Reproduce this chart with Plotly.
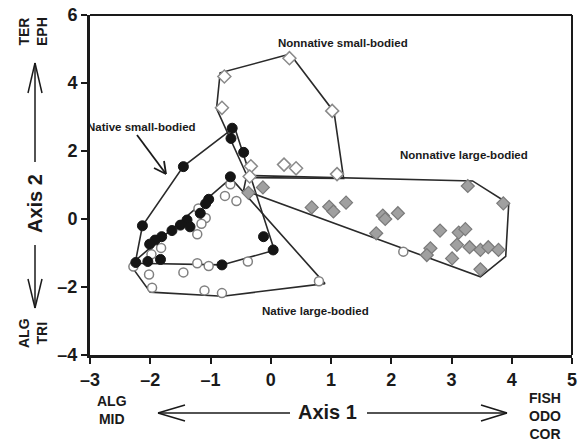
import plotly.graph_objects as go

# ---- data ----
native_small_x = [-0.64, -0.66, -0.45, -1.45, -0.67, -1.03, -1.08, -1.17, -1.39, -1.34, -1.50, -1.64, -1.81, -1.92, -2.01, -2.13, -0.12, 0.04, -0.81, -1.83, -2.04, -2.24]
native_small_y = [2.67, 2.37, 1.96, 1.54, 1.24, 0.58, 0.45, 0.17, -0.03, -0.23, -0.18, -0.34, -0.52, -0.62, -0.74, -0.20, -0.52, -0.91, -1.35, -1.19, -1.25, -1.28]

native_large_x = [-0.67, -0.76, -0.57, -1.20, -1.08, -1.15, -1.22, -1.82, -1.98, -2.02, -1.97, -1.45, -1.22, -1.03, -0.38, -1.10, -0.81, 0.80, -2.28, 2.20]
native_large_y = [1.02, 0.68, 0.53, 0.31, 0.03, -0.14, -0.45, -0.85, -1.04, -1.63, -2.02, -1.57, -1.30, -1.38, -1.25, -2.10, -2.18, -1.83, -1.40, -0.96]

nonnative_small_x = [0.31, -0.77, -0.81, 1.02, 0.22, 0.42, 1.10, -0.33, -0.35]
nonnative_small_y = [4.73, 4.19, 3.27, 3.18, 1.60, 1.49, 1.32, 1.55, 1.25]

nonnative_large_x = [-0.13, -0.37, 0.68, 0.97, 1.04, 1.25, 1.86, 1.90, 2.11, 1.75, 2.81, 3.12, 3.23, 3.27, 3.86, 2.65, 2.59, 3.09, 3.30, 3.48, 3.61, 3.78, 3.01, 3.48]
nonnative_large_y = [0.93, 0.77, 0.34, 0.36, 0.22, 0.48, 0.10, 0.00, 0.17, -0.42, -0.34, -0.40, -0.30, 0.97, 0.46, -0.86, -1.06, -0.76, -0.83, -0.91, -0.83, -0.91, -1.16, -1.48]

# hull vertices
hull_native_small_x = [-0.60, 0.06, -0.81, -2.25, -2.13, -1.45, -0.60]
hull_native_small_y = [2.70, -0.92, -1.35, -1.30, -0.20, 1.55, 2.70]
hull_native_large_x = [-2.33, -0.66, 0.90, -0.80, -2.00, -2.33]
hull_native_large_y = [-1.35, 1.20, -1.90, -2.27, -2.15, -1.35]
hull_nonnative_small_x = [0.32, -0.84, -0.90, -0.38, 1.21, 1.05, 0.32]
hull_nonnative_small_y = [4.85, 4.30, 3.25, 1.22, 1.19, 3.15, 4.85]
hull_nonnative_large_x = [-0.45, -0.40, 3.35, 3.95, 3.90, 3.48, -0.45]
hull_nonnative_large_y = [0.85, 1.28, 1.12, 0.45, -1.10, -1.70, 0.85]

x_ticks = [-3, -2, -1, 0, 1, 2, 3, 4, 5]
y_ticks = [-4, -2, 0, 2, 4, 6]

FONT = "Liberation Sans, Arial, sans-serif"
HULL = dict(color="#2a2a2a", width=1.6)

fig = go.Figure()
for hx, hy in [(hull_native_large_x, hull_native_large_y),
               (hull_native_small_x, hull_native_small_y),
               (hull_nonnative_small_x, hull_nonnative_small_y),
               (hull_nonnative_large_x, hull_nonnative_large_y)]:
    fig.add_trace(go.Scatter(x=hx, y=hy, mode="lines", line=HULL, hoverinfo="skip"))

fig.add_trace(go.Scatter(x=native_large_x, y=native_large_y, mode="markers",
                         marker=dict(symbol="circle", size=9, color="white",
                                     line=dict(color="#808080", width=1.5))))
fig.add_trace(go.Scatter(x=nonnative_small_x, y=nonnative_small_y, mode="markers",
                         marker=dict(symbol="diamond", size=10, color="white",
                                     line=dict(color="#8a8a8a", width=1.5))))
fig.add_trace(go.Scatter(x=nonnative_large_x, y=nonnative_large_y, mode="markers",
                         marker=dict(symbol="diamond", size=10, color="#a0a0a0",
                                     line=dict(color="#7a7a7a", width=1.2))))
fig.add_trace(go.Scatter(x=native_small_x, y=native_small_y, mode="markers",
                         marker=dict(symbol="circle", size=10, color="#151515",
                                     line=dict(color="#151515", width=1))))

# plot-area geometry in pixels (for styling of outside decorations)
L, R, T, B = 90, 572, 15, 355
def P(px, py):
    return (px - L) / (R - L), (B - py) / (B - T)

shapes = []
def seg(a, b, w=2):
    x0, y0 = P(*a); x1, y1 = P(*b)
    shapes.append(dict(type="line", xref="paper", yref="paper", x0=x0, y0=y0, x1=x1, y1=y1,
                       line=dict(color="#1a1a1a", width=w)))

# frame top/right
seg((L, T), (R, T), 2)
seg((R, T), (R, B), 2)

# callout arrow
seg((137, 135), (166, 174), 1.8)
seg((166, 174), (154, 168), 1.8)
seg((166, 174), (164, 161), 1.8)

# axis 1 arrows
seg((158, 413), (290, 413), 1.5)
seg((158, 413), (185, 405), 1.5)
seg((158, 413), (185, 421), 1.5)
seg((367, 413), (507, 413), 1.5)
seg((507, 413), (481, 405), 1.5)
seg((507, 413), (481, 421), 1.5)
# axis 2 arrows
seg((35, 63), (35, 162), 1.5)
seg((35, 63), (28, 93), 1.5)
seg((35, 63), (42, 93), 1.5)
seg((35, 245), (35, 308), 1.5)
seg((35, 308), (28, 279), 1.5)
seg((35, 308), (42, 279), 1.5)

ann = []
def lab(x, y, text, size=11, ref="data", angle=0):
    ann.append(dict(x=x, y=y, xref="x" if ref == "data" else "paper",
                    yref="y" if ref == "data" else "paper", text=text, showarrow=False,
                    textangle=angle, xanchor="center", yanchor="middle",
                    font=dict(family=FONT, size=size, color="#1a1a1a", weight="bold")))

lab(1.2, 5.18, "Nonnative small-bodied", 11.5)
lab(-2.15, 2.7, "Native small-bodied", 11.5)
lab(3.2, 1.88, "Nonnative large-bodied", 11.5)
lab(0.74, -2.72, "Native large-bodied", 11.5)

px_, py_ = P(327, 412); lab(px_, py_, "Axis 1", 20, ref="paper")
px_, py_ = P(35, 204); lab(px_, py_, "Axis 2", 20, ref="paper", angle=-90)
px_, py_ = P(112, 410); lab(px_, py_, "ALG<br>MID", 14, ref="paper")
px_, py_ = P(545, 416); lab(px_, py_, "FISH<br>ODO<br>COR", 14, ref="paper")
px_, py_ = P(33, 32); lab(px_, py_, "TER<br>EPH", 14, ref="paper", angle=-90)
px_, py_ = P(33, 333); lab(px_, py_, "ALG<br>TRI", 14, ref="paper", angle=-90)

axis_common = dict(showgrid=False, zeroline=False, showline=True, linecolor="#1a1a1a",
                   linewidth=3, ticks="outside", ticklen=6, tickwidth=2, tickcolor="#1a1a1a",
                   automargin=False,
                   tickfont=dict(family=FONT, size=18, color="#1a1a1a", weight="bold"))

fig.update_layout(
    template="none",
    width=584, height=446,
    margin=dict(l=L, r=584 - R, t=T, b=446 - B, pad=0),
    paper_bgcolor="white", plot_bgcolor="white",
    showlegend=False,
    xaxis=dict(range=[-3, 5], tickmode="array", tickvals=x_ticks,
               ticktext=[str(v).replace("-", "\u2013") for v in x_ticks], **axis_common),
    yaxis=dict(range=[-4, 6], tickmode="array", tickvals=y_ticks,
               ticktext=[str(v).replace("-", "\u2013") for v in y_ticks], **axis_common),
    shapes=shapes, annotations=ann,
)

fig.write_html("out.html", config={"displayModeBar": False},
               post_script="document.body.style.margin='0';document.body.style.overflow='hidden';")
